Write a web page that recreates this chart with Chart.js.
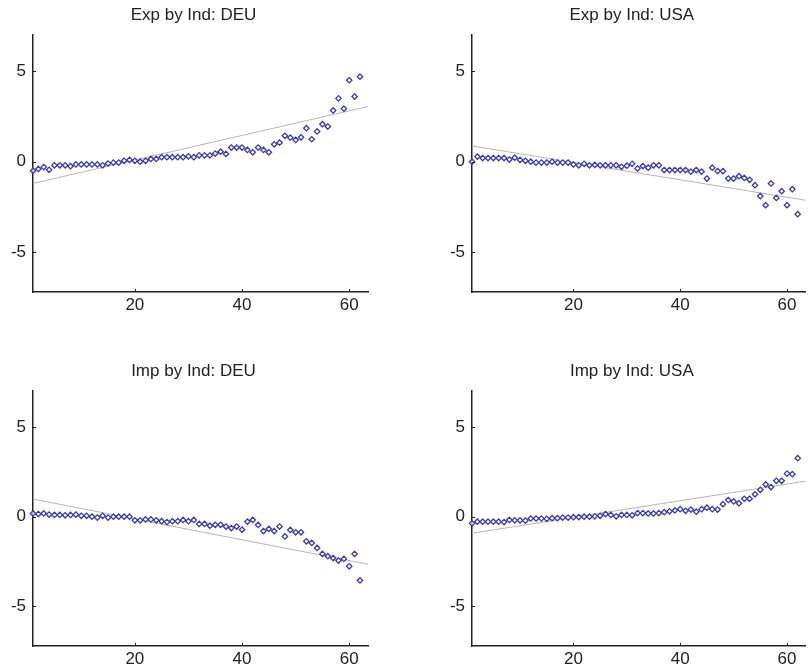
<!DOCTYPE html>
<html>
<head>
<meta charset="utf-8">
<script src="https://cdn.jsdelivr.net/npm/chart.js@4.4.0/dist/chart.umd.min.js"></script>
<style>
  body { margin: 0; background: #fff; }
  canvas { position: absolute; }
</style>
</head>
<body>
<canvas id="c1" width="405" height="330" style="left:0;top:0"></canvas>
<canvas id="c2" width="406" height="330" style="left:405px;top:0"></canvas>
<canvas id="c3" width="405" height="338" style="left:0;top:330px"></canvas>
<canvas id="c4" width="406" height="338" style="left:405px;top:330px"></canvas>
<script>
// values, index 1..62
const expDEU = [
  -0.5, -0.4, -0.3, -0.45, -0.2, -0.2, -0.2, -0.25, -0.15, -0.15,
  -0.15, -0.15, -0.15, -0.2, -0.1, -0.05, -0.05, 0.05, 0.1, 0.05,
  0.0, 0.05, 0.15, 0.15, 0.25, 0.25, 0.25, 0.25, 0.25, 0.3,
  0.25, 0.35, 0.35, 0.35, 0.45, 0.55, 0.43, 0.78, 0.78, 0.78,
  0.65, 0.52, 0.78, 0.65, 0.52, 0.96, 1.05, 1.43, 1.33, 1.2,
  1.35, 1.85, 1.24, 1.67, 2.07, 1.94, 2.83, 3.5, 2.93, 4.5,
  3.6, 4.7
];
const expUSA = [
  0.0, 0.28, 0.2, 0.2, 0.2, 0.2, 0.2, 0.12, 0.22, 0.1,
  0.05, 0.0, -0.05, -0.05, -0.05, 0.0, -0.05, -0.05, -0.05, -0.15,
  -0.2, -0.12, -0.2, -0.18, -0.2, -0.2, -0.2, -0.2, -0.28, -0.22,
  -0.12, -0.37, -0.24, -0.33, -0.2, -0.2, -0.46, -0.46, -0.46, -0.46,
  -0.46, -0.55, -0.46, -0.55, -0.93, -0.33, -0.52, -0.52, -0.93, -0.93,
  -0.8, -0.9, -1.0, -1.3, -1.9, -2.4, -1.2, -2.0, -1.63, -2.4,
  -1.52, -2.9
];
const impDEU = [
  0.18, 0.15, 0.18, 0.12, 0.1, 0.1, 0.08, 0.1, 0.12, 0.05,
  0.05, 0.0, -0.05, 0.05, -0.05, 0.0, 0.0, 0.0, 0.0, -0.2,
  -0.2, -0.15, -0.15, -0.2, -0.25, -0.3, -0.25, -0.25, -0.18, -0.25,
  -0.18, -0.4, -0.4, -0.5, -0.45, -0.45, -0.55, -0.63, -0.55, -0.72,
  -0.28, -0.18, -0.46, -0.8, -0.68, -0.8, -0.55, -1.1, -0.74, -0.87,
  -0.87, -1.37, -1.46, -1.74, -2.07, -2.2, -2.3, -2.44, -2.35, -2.76,
  -2.07, -3.55
];
const impUSA = [
  -0.37, -0.28, -0.28, -0.28, -0.28, -0.28, -0.3, -0.18, -0.2, -0.2,
  -0.22, -0.1, -0.1, -0.1, -0.12, -0.08, -0.08, -0.05, -0.05, -0.03,
  -0.02, 0.0, 0.0, 0.02, 0.05, 0.15, 0.1, 0.02, 0.1, 0.1,
  0.08, 0.2, 0.2, 0.18, 0.18, 0.2, 0.25, 0.3, 0.35, 0.42,
  0.33, 0.4, 0.28, 0.42, 0.5, 0.42, 0.4, 0.7, 0.93, 0.85,
  0.75, 1.0, 1.0, 1.25, 1.5, 1.8, 1.65, 2.0, 2.0, 2.4,
  2.37, 3.26
];
// fitted line ends, at fitX
const fitX = [1, 63.5];
const fitExpDEU = [-1.2, 3.05];
const fitExpUSA = [0.87, -2.13];
const fitImpDEU = [0.98, -2.65];
const fitImpUSA = [-0.92, 1.98];

const xTickVals = [20, 40, 60];
const yTickVals = [-5, 0, 5];
const xMin = 1, xMax = 63.5;
const yMin = -7.2, yMax = 7;

const FONT = "'Liberation Sans', Arial, sans-serif";
const INK = "#222";

// title drawn a bit left of the plot centre, like the original
const panelTitle = {
  id: "panelTitle",
  afterDraw(chart, args, opts) {
    const ca = chart.chartArea;
    const ctx = chart.ctx;
    ctx.save();
    ctx.font = "17px " + FONT;
    ctx.fillStyle = INK;
    ctx.textAlign = "center";
    ctx.textBaseline = "middle";
    ctx.fillText(opts.text, (ca.left + ca.right) / 2 - 7, ca.top - 20);
    ctx.restore();
  },
};

// short tick marks pointing into the plot
const innerTicks = {
  id: "innerTicks",
  afterDraw(chart) {
    const ca = chart.chartArea;
    const ctx = chart.ctx;
    const xs = chart.scales.x, ys = chart.scales.y;
    ctx.save();
    ctx.strokeStyle = INK;
    ctx.lineWidth = 1;
    ctx.beginPath();
    for (const t of xs.ticks) {
      const px = Math.round(xs.getPixelForValue(t.value)) + 0.5;
      ctx.moveTo(px, ca.bottom);
      ctx.lineTo(px, ca.bottom - 3);
    }
    for (const t of ys.ticks) {
      const py = Math.round(ys.getPixelForValue(t.value)) + 0.5;
      ctx.moveTo(ca.left, py);
      ctx.lineTo(ca.left + 3, py);
    }
    ctx.stroke();
    ctx.restore();
  },
};

function makeChart(id, title, values, fit, pad, xh) {
  const points = values.map((v, i) => ({ x: i + 1, y: v }));
  const line = fitX.map((x, i) => ({ x: x, y: fit[i] }));
  new Chart(document.getElementById(id), {
    type: "scatter",
    data: {
      datasets: [
        {
          data: points,
          pointStyle: "rectRot",
          pointRadius: 2.7,
          borderWidth: 1.3,
          borderColor: "#3a3aae",
          backgroundColor: "rgba(255,255,255,0.7)",
          clip: false,
        },
        {
          data: line,
          showLine: true,
          borderColor: "#b5b5b5",
          borderWidth: 1,
          pointRadius: 0,
        },
      ],
    },
    options: {
      animation: false,
      responsive: false,
      events: [],
      layout: { padding: pad },
      plugins: {
        legend: { display: false },
        tooltip: { enabled: false },
        panelTitle: { text: title },
      },
      scales: {
        x: {
          type: "linear",
          min: xMin,
          max: xMax,
          grid: { display: false, drawTicks: false },
          border: { display: true, color: INK, width: 1.5 },
          ticks: { color: INK, font: { family: FONT, size: 17 }, padding: 3, maxRotation: 0 },
          afterBuildTicks: (s) => { s.ticks = xTickVals.map((v) => ({ value: v })); },
          afterFit: (s) => { s.height = xh; },
        },
        y: {
          min: yMin,
          max: yMax,
          grid: { display: false, drawTicks: false },
          border: { display: true, color: INK, width: 1.5 },
          ticks: { color: INK, font: { family: FONT, size: 17 }, padding: 7 },
          afterBuildTicks: (s) => { s.ticks = yTickVals.map((v) => ({ value: v })); },
          afterFit: (s) => { s.width = 33; },
        },
      },
    },
    plugins: [panelTitle, innerTicks],
  });
}

makeChart("c1", "Exp by Ind: DEU", expDEU, fitExpDEU, { left: 0, right: 37, top: 35, bottom: 0 }, 38);
makeChart("c2", "Exp by Ind: USA", expUSA, fitExpUSA, { left: 34, right: 2, top: 35, bottom: 0 }, 38);
makeChart("c3", "Imp by Ind: DEU", impDEU, fitImpDEU, { left: 0, right: 37, top: 61, bottom: 0 }, 22);
makeChart("c4", "Imp by Ind: USA", impUSA, fitImpUSA, { left: 34, right: 2, top: 61, bottom: 0 }, 22);
</script>
</body>
</html>
